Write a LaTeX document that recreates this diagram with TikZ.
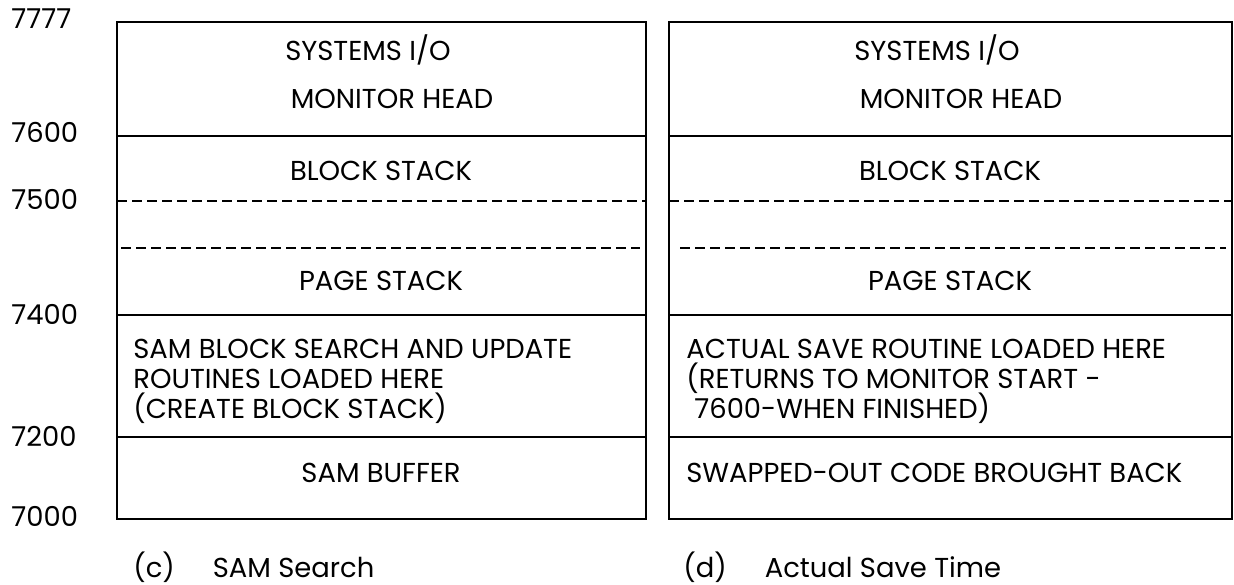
\documentclass[tikz,border=0pt]{standalone}
\usepackage{fontspec}
\setmainfont{Poppins}
\begin{document}
\begin{tikzpicture}[x=0.5pt,y=-0.5pt,
  txt/.style={inner sep=0pt,font=\fontsize{13.7}{16}\selectfont},
  ctr/.style={txt,anchor=base},
  lft/.style={txt,anchor=base west},
  addr/.style={txt,anchor=base west},
  frame/.style={line width=1.2pt},
  sep/.style={line width=1.1pt},
  dsh/.style={line width=1.2pt,dash pattern=on 5pt off 2.5pt}]
\useasboundingbox (0,0) rectangle (1234,584);
% address labels
\node[addr] (a7777) at (11,28) {7777};
\node[addr] (a7600) at (11,142) {7600};
\node[addr] (a7500) at (11,209) {7500};
\node[addr] (a7400) at (11,324) {7400};
\node[addr] (a7200) at (11,446) {7200};
\node[addr] (a7000) at (11,526) {7000};
% left box
\draw[frame] (117,22) rectangle (646,519);
\draw[sep] (117,136) -- (646,136);
\draw[sep] (117,315) -- (646,315);
\draw[sep] (117,437) -- (646,437);
\draw[dsh] (117,201) -- (646,201);
\draw[dsh] (121,248) -- (640,248);
\node[ctr] (l1) at (368,60) {SYSTEMS I/O};
\node[ctr] (l2) at (392,108) {MONITOR HEAD};
\node[ctr] (l3) at (381,180) {BLOCK STACK};
\node[ctr] (l4) at (381,290) {PAGE STACK};
\node[lft] (l5) at (133,358) {SAM BLOCK SEARCH AND UPDATE};
\node[lft] (l6) at (133,388) {ROUTINES LOADED HERE};
\node[lft] (l7) at (133,418) {(CREATE BLOCK STACK)};
\node[ctr] (l8) at (381,482) {SAM BUFFER};
\node[lft] (lc) at (133,577) {(c)\hspace{19pt}SAM Search};
% right box
\draw[frame] (669,22) rectangle (1232,519);
\draw[sep] (669,136) -- (1232,136);
\draw[sep] (669,315) -- (1232,315);
\draw[sep] (669,437) -- (1232,437);
\draw[dsh] (669,201) -- (1232,201);
\draw[dsh] (680,248) -- (1226,248);
\node[ctr] (r1) at (937,60) {SYSTEMS I/O};
\node[ctr] (r2) at (961,108) {MONITOR HEAD};
\node[ctr] (r3) at (950,180) {BLOCK STACK};
\node[ctr] (r4) at (950,290) {PAGE STACK};
\node[lft] (r5) at (686,358) {ACTUAL SAVE ROUTINE LOADED HERE};
\node[lft] (r6) at (686,388) {(RETURNS TO MONITOR START -};
\node[lft] (r7) at (694,418) {7600-WHEN FINISHED)};
\node[lft] (r8) at (686,482) {SWAPPED-OUT CODE BROUGHT BACK};
\node[lft] (rc) at (683,577) {(d)\hspace{19pt}Actual Save Time};
\end{tikzpicture}
\end{document}
